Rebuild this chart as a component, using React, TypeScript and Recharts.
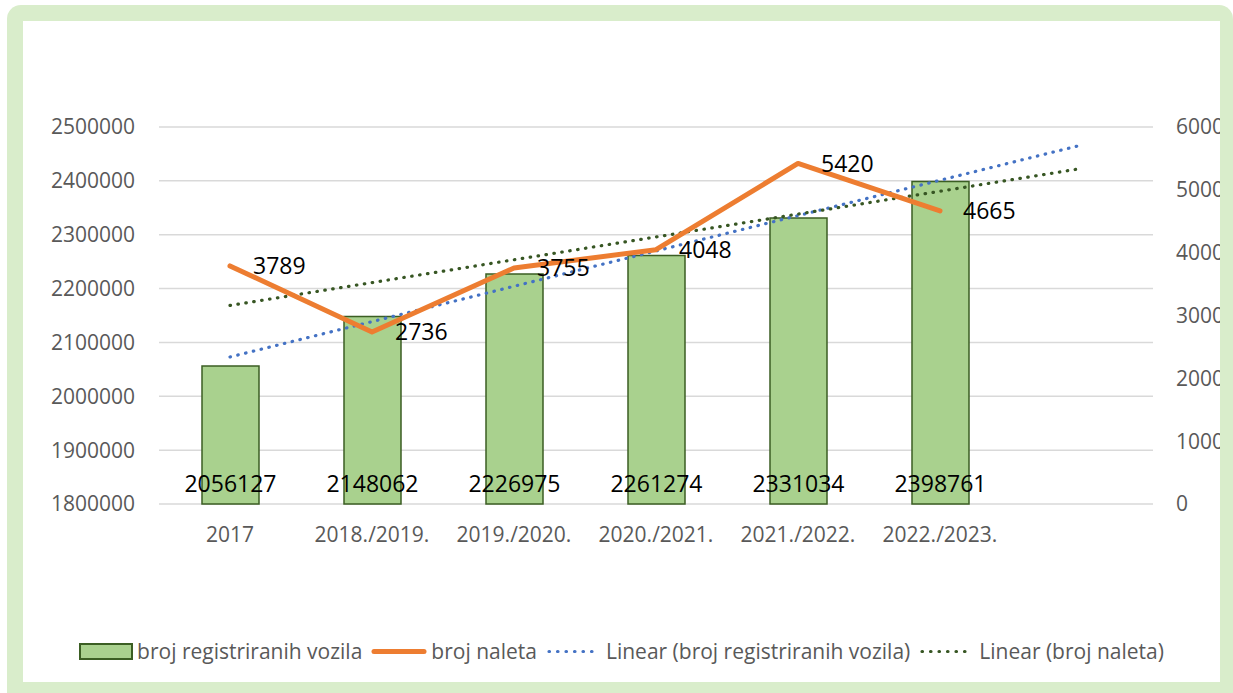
import React from "react";
import {
    ComposedChart,
    Bar,
    Line,
    XAxis,
    YAxis,
    CartesianGrid,
    Legend,
    LabelList,
} from "recharts";

const years = ["2017", "2018./2019.", "2019./2020.", "2020./2021.", "2021./2022.", "2022./2023.", ""];
const registeredVehicles = [2056127, 2148062, 2226975, 2261274, 2331034, 2398761, null];
const collisions = [3789, 2736, 3755, 4048, 5420, 4665, null];
// trendline ends (Excel linear trend, forecast +1 period)
const trendVehicles = [2073000, null, null, null, null, null, 2466700];
const trendCollisions = [3160, null, null, null, null, null, 5341];
const leftTicks = [1800000, 1900000, 2000000, 2100000, 2200000, 2300000, 2400000, 2500000];
const rightTicks = [0, 1000, 2000, 3000, 4000, 5000, 6000];

const legendItems = [
    { key: "vozila", label: "broj registriranih vozila" },
    { key: "naleta", label: "broj naleta" },
    { key: "trendVozila", label: "Linear (broj registriranih vozila)" },
    { key: "trendNaleta", label: "Linear (broj naleta)" },
];

const data = years.map((year, i) => ({
    year,
    vozila: registeredVehicles[i],
    naleta: collisions[i],
    trendVozila: trendVehicles[i],
    trendNaleta: trendCollisions[i],
}));

const FONT = "'Open Sans', sans-serif";
const GREY = "#595959";

function LegendIcon({ kind }: { kind: string }) {
    if (kind === "vozila") {
        return (
            <svg width={54} height={17}>
                <rect x={1} y={1} width={52} height={15} fill="#A9D18E" stroke="#3B5E23" strokeWidth={2} />
            </svg>
        );
    }
    if (kind === "naleta") {
        return (
            <svg width={56} height={17}>
                <line x1={3} y1={8.5} x2={53} y2={8.5} stroke="#ED7D31" strokeWidth={5} strokeLinecap="round" />
            </svg>
        );
    }
    const color = kind === "trendVozila" ? "#4472C4" : "#375623";
    return (
        <svg width={56} height={17}>
            <line x1={3} y1={8.5} x2={53} y2={8.5} stroke={color} strokeWidth={3.2} strokeDasharray="0.5 8" strokeLinecap="round" />
        </svg>
    );
}

function renderLegend() {
    return (
        <div
            style={{
                display: "flex",
                justifyContent: "center",
                alignItems: "center",
                gap: 9,
                height: 30,
                fontFamily: FONT,
                fontSize: 21,
                color: GREY,
                whiteSpace: "nowrap",
            }}
        >
            {legendItems.map((item) => (
                <div key={item.key} style={{ display: "flex", alignItems: "center", gap: 4 }}>
                    <LegendIcon kind={item.key} />
                    <span>{item.label}</span>
                </div>
            ))}
        </div>
    );
}

export default function App() {
    return (
        <div style={{ fontFamily: FONT }}>
            <div
                style={{
                    position: "absolute",
                    left: 7,
                    top: 5,
                    width: 1226,
                    height: 688,
                    background: "#D9EDCB",
                    borderRadius: "14px 14px 0 0",
                }}
            />
            <div
                style={{
                    position: "absolute",
                    left: 23,
                    top: 21,
                    width: 1197,
                    height: 661,
                    background: "#fff",
                    overflow: "hidden",
                }}
            >
                <ComposedChart
                    width={1230}
                    height={661}
                    data={data}
                    margin={{ top: 106, right: 0, left: 0, bottom: 16 }}
                >
                    <CartesianGrid
                        yAxisId="left"
                        vertical={false}
                        stroke="#D9D9D9"
                        strokeWidth={1.5}
                    />
                    <XAxis
                        dataKey="year"
                        interval={0}
                        axisLine={false}
                        tickLine={false}
                        tickSize={0}
                        tickMargin={23}
                        height={132}
                        tick={{ fill: GREY, fontSize: 21, fontFamily: FONT }}
                    />
                    <YAxis
                        yAxisId="left"
                        orientation="left"
                        width={136}
                        domain={[1800000, 2500000]}
                        ticks={leftTicks}
                        axisLine={false}
                        tickLine={false}
                        tickSize={0}
                        tickMargin={24}
                        tick={{ fill: GREY, fontSize: 21, fontFamily: FONT }}
                    />
                    <YAxis
                        yAxisId="right"
                        orientation="right"
                        width={100}
                        domain={[0, 6000]}
                        ticks={rightTicks}
                        axisLine={false}
                        tickLine={false}
                        tickSize={0}
                        tickMargin={23}
                        tick={{ fill: GREY, fontSize: 21, fontFamily: FONT }}
                    />
                    <Legend
                        verticalAlign="bottom"
                        content={renderLegend}
                        wrapperStyle={{ left: 0, width: 1197 }}
                    />
                    <Bar
                        yAxisId="left"
                        dataKey="vozila"
                        name="broj registriranih vozila"
                        barSize={57}
                        fill="#A9D18E"
                        stroke="#3B5E23"
                        strokeWidth={1.5}
                        isAnimationActive={false}
                    >
                        <LabelList
                            dataKey="vozila"
                            position="insideBottom"
                            offset={12}
                            fill="#000"
                            fontSize={23}
                            fontFamily={FONT}
                        />
                    </Bar>
                    <Line
                        yAxisId="left"
                        dataKey="trendVozila"
                        name="Linear (broj registriranih vozila)"
                        stroke="#4472C4"
                        strokeWidth={3.2}
                        strokeDasharray="0.5 7.5"
                        strokeLinecap="round"
                        dot={false}
                        activeDot={false}
                        connectNulls
                        isAnimationActive={false}
                    />
                    <Line
                        yAxisId="right"
                        dataKey="trendNaleta"
                        name="Linear (broj naleta)"
                        stroke="#375623"
                        strokeWidth={3.2}
                        strokeDasharray="0.5 7.5"
                        strokeLinecap="round"
                        dot={false}
                        activeDot={false}
                        connectNulls
                        isAnimationActive={false}
                    />
                    <Line
                        yAxisId="right"
                        type="linear"
                        dataKey="naleta"
                        name="broj naleta"
                        stroke="#ED7D31"
                        strokeWidth={5}
                        strokeLinecap="round"
                        strokeLinejoin="round"
                        dot={false}
                        activeDot={false}
                        isAnimationActive={false}
                    >
                        <LabelList
                            dataKey="naleta"
                            position="right"
                            offset={23}
                            fill="#000"
                            fontSize={23}
                            fontFamily={FONT}
                        />
                    </Line>
                </ComposedChart>
            </div>
        </div>
    );
}
